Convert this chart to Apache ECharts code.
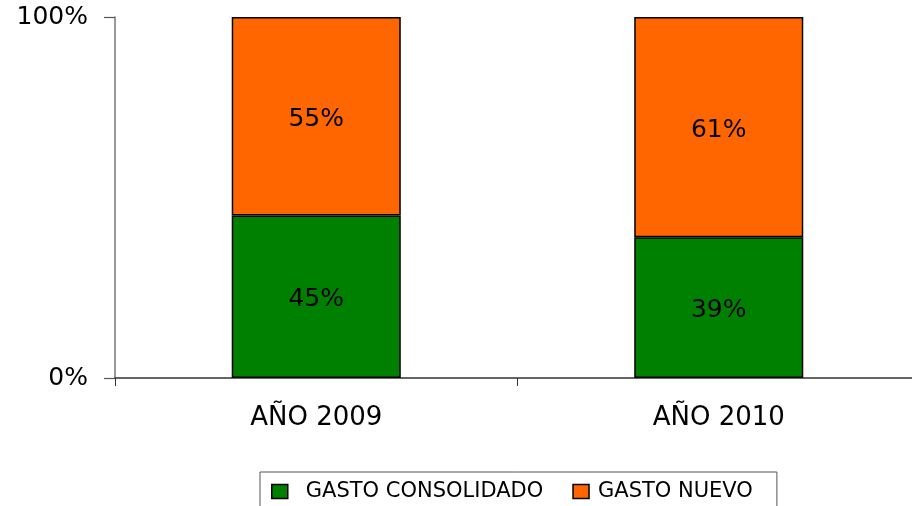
<!DOCTYPE html>
<html><head><meta charset="utf-8">
<script src="https://cdn.jsdelivr.net/npm/echarts@6/dist/echarts.min.js"></script>
<style>html,body{margin:0;padding:0;background:#fff}#c{width:912px;height:506px}</style>
</head><body><div id="c"></div>
<script>
var categories = ['AÑO 2009', 'AÑO 2010'];
var gastoConsolidado = [45, 39];
var gastoNuevo = [55, 61];
var yTicks = [0, 100];

var font = 'DejaVu Sans';
var chart = echarts.init(document.getElementById('c'), null, {renderer: 'canvas'});
chart.setOption({
  animation: false,
  backgroundColor: '#fff',
  grid: {left: 115, width: 805, top: 17, bottom: 128, containLabel: false, outerBoundsMode: 'none'},
  legend: {
    left: 260, top: 472,
    padding: [9, 24, 8, 11],
    itemGap: 29,
    icon: 'rect',
    itemWidth: 16, itemHeight: 14,
    borderColor: '#555', borderWidth: 1,
    textStyle: {fontFamily: font, fontSize: 21, color: '#000'},
    itemStyle: {borderColor: '#000', borderWidth: 1.5},
    data: [
      {name: 'GASTO CONSOLIDADO', icon: 'rect', textStyle: {padding: [0, 0, 0, 13]}},
      {name: 'GASTO NUEVO', icon: 'rect', textStyle: {padding: [0, 0, 0, 4]}}
    ]
  },
  xAxis: {
    type: 'category', data: categories,
    axisLine: {lineStyle: {color: '#333', width: 1.5}},
    axisTick: {show: true, length: 8, alignWithLabel: false, lineStyle: {color: '#333'}},
    axisLabel: {fontFamily: font, fontSize: 26, color: '#000', margin: 27}
  },
  yAxis: {
    type: 'value', min: yTicks[0], max: yTicks[1], interval: 100,
    splitLine: {show: false},
    axisLine: {show: true, lineStyle: {color: '#777', width: 1.5}},
    axisTick: {show: true, length: 11, lineStyle: {color: '#555', width: 1.2}},
    axisLabel: {fontFamily: font, fontSize: 25, color: '#000', margin: 27, formatter: '{value}%', padding: [5, 0, 0, 0]}
  },
  series: [
    {
      name: 'GASTO CONSOLIDADO', type: 'bar', stack: 't', barWidth: '42%',
      data: gastoConsolidado,
      itemStyle: {color: '#008000', borderColor: '#000', borderWidth: 1.5},
      label: {show: true, position: 'inside', offset: [0, 3], formatter: '{c}%', fontFamily: font, fontSize: 25, color: '#000'}
    },
    {
      name: 'GASTO NUEVO', type: 'bar', stack: 't', barWidth: '42%',
      data: gastoNuevo,
      itemStyle: {color: '#FF6600', borderColor: '#000', borderWidth: 1.5},
      label: {show: true, position: 'inside', offset: [0, 3], formatter: '{c}%', fontFamily: font, fontSize: 25, color: '#000'}
    }
  ]
});
</script></body></html>
